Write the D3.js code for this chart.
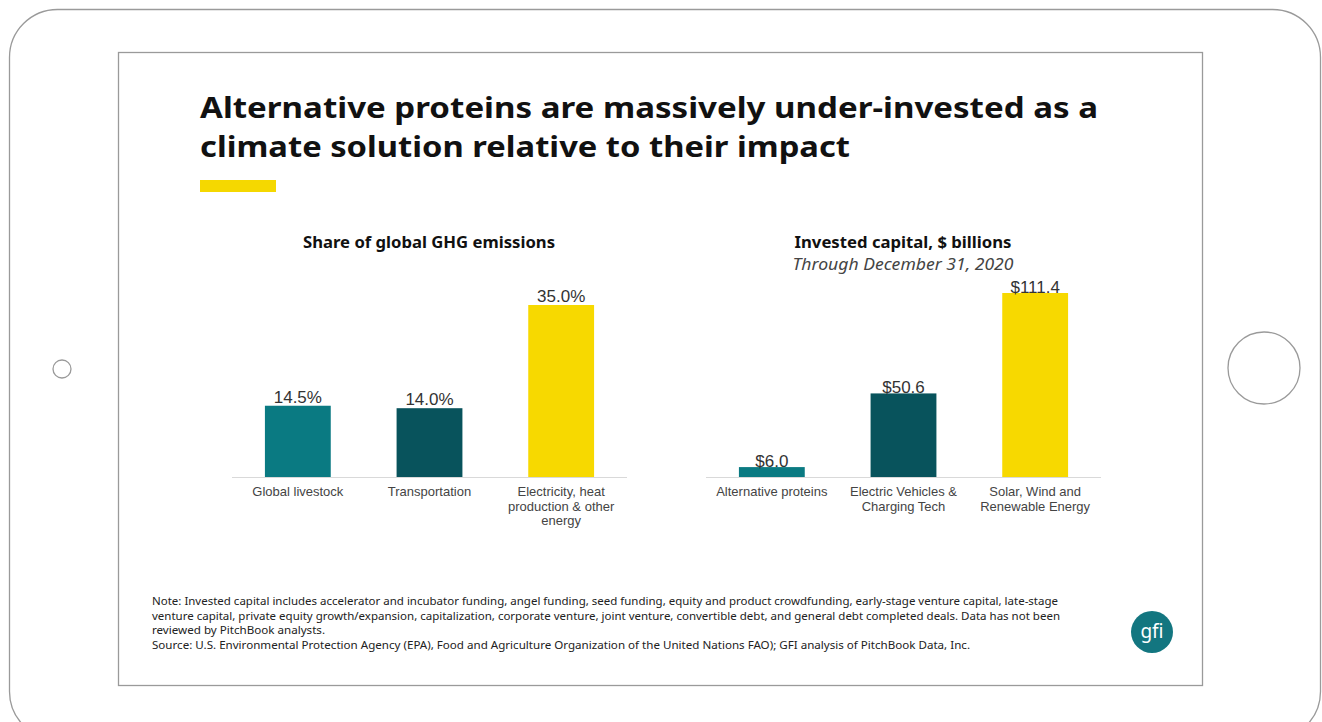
<!DOCTYPE html>
<html><head><meta charset="utf-8">
<script src="https://cdn.jsdelivr.net/npm/d3@7"></script>
<style>
html,body{margin:0;padding:0;background:#fff;}
svg{display:block;}
</style></head>
<body>
<svg id="c" width="1322" height="722"></svg>
<script>
const titleLines = ["Alternative proteins are massively under-invested as a", "climate solution relative to their impact"];
const ghgTitle = "Share of global GHG emissions";
const ghgCategories = [["Global livestock"], ["Transportation"], ["Electricity, heat", "production & other", "energy"]];
const ghgValues = [14.5, 14.0, 35.0];
const ghgLabels = ["14.5%", "14.0%", "35.0%"];
const capTitle = "Invested capital, $ billions";
const capSubtitle = "Through December 31, 2020";
const capCategories = [["Alternative proteins"], ["Electric Vehicles &", "Charging Tech"], ["Solar, Wind and", "Renewable Energy"]];
const capValues = [6.0, 50.6, 111.4];
const capLabels = ["$6.0", "$50.6", "$111.4"];
const barColors = ["#0a7a82", "#08535c", "#f7d900"];
const noteLines = [
 "Note: Invested capital includes accelerator and incubator funding, angel funding, seed funding, equity and product crowdfunding, early-stage venture capital, late-stage",
 "venture capital, private equity growth/expansion, capitalization, corporate venture, joint venture, convertible debt, and general debt completed deals. Data has not been",
 "reviewed by PitchBook analysts.",
 "Source: U.S. Environmental Protection Agency (EPA), Food and Agriculture Organization of the United Nations FAO); GFI analysis of PitchBook Data, Inc."
];
const noteWidths = [906, 908, 173, 818];

const svg = d3.select("#c");
// tablet frame
svg.append("rect").attr("x",9.5).attr("y",9.5).attr("width",1311).attr("height",730).attr("rx",48)
  .attr("fill","#fff").attr("stroke","#9a9a9a").attr("stroke-width",1.3);
svg.append("circle").attr("cx",62).attr("cy",369).attr("r",9).attr("fill","none").attr("stroke","#9a9a9a").attr("stroke-width",1.3);
svg.append("circle").attr("cx",1264).attr("cy",368).attr("r",36).attr("fill","none").attr("stroke","#9a9a9a").attr("stroke-width",1.3);
// slide
svg.append("rect").attr("x",118.5).attr("y",52.5).attr("width",1084).attr("height",633)
  .attr("fill","#fff").attr("stroke","#9a9a9a").attr("stroke-width",1.3);

const titleFont = "'Noto Sans', 'Open Sans', sans-serif";
const tt = svg.append("g");
titleLines.forEach((t,i)=>{
  const el = tt.append("text").attr("x",200).attr("y",118+i*39).text(t)
    .attr("font-family",titleFont).attr("font-weight",700).attr("font-size",29).attr("fill","#111");
  if(i===0) el.attr("textLength",898).attr("lengthAdjust","spacingAndGlyphs");
  if(i===1) el.attr("textLength",650).attr("lengthAdjust","spacingAndGlyphs");
});
svg.append("rect").attr("x",200).attr("y",180).attr("width",76).attr("height",12).attr("fill","#f5d800");

function chart(cfg){
  const g = svg.append("g");
  const x = d3.scaleBand().domain(d3.range(cfg.values.length)).range([cfg.x0, cfg.x1]).paddingInner(cfg.pi).paddingOuter(cfg.po);
  const y = d3.scaleLinear().domain([0, cfg.max]).range([cfg.base, cfg.top]);
  g.append("line").attr("x1",cfg.ax0).attr("x2",cfg.ax1).attr("y1",cfg.base+0.5).attr("y2",cfg.base+0.5)
    .attr("stroke","#d9d9d9").attr("stroke-width",1.2);
  g.selectAll("rect.bar").data(cfg.values).join("rect").attr("class","bar")
    .attr("x",(d,i)=>x(i)).attr("width",x.bandwidth())
    .attr("y",d=>y(d)).attr("height",d=>cfg.base-y(d)).attr("fill",(d,i)=>barColors[i]);
  g.selectAll("text.val").data(cfg.values).join("text").attr("class","val")
    .attr("x",(d,i)=>x(i)+x.bandwidth()/2).attr("y",d=>y(d)+cfg.labelDy)
    .attr("text-anchor","middle").attr("font-family","'Liberation Sans', Arial, sans-serif")
    .attr("font-size",17).attr("fill","#333").text((d,i)=>cfg.labels[i]);
  cfg.cats.forEach((lines,i)=>{
    const t = g.append("text").attr("text-anchor","middle").attr("font-family","'Liberation Sans', Arial, sans-serif")
      .attr("font-size",13).attr("fill","#444");
    lines.forEach((l,j)=>t.append("tspan").attr("x",x(i)+x.bandwidth()/2).attr("y",cfg.base+19+j*cfg.lh).text(l));
  });
  g.append("text").attr("x",cfg.tx).attr("y",248).attr("text-anchor","middle")
    .attr("font-family",titleFont).attr("font-weight",700).attr("font-size",16.5).attr("fill","#111")
    .attr("textLength",cfg.tw).attr("lengthAdjust","spacingAndGlyphs").text(cfg.title);
  if(cfg.subtitle){
    g.append("text").attr("x",cfg.tx).attr("y",270).attr("text-anchor","middle")
      .attr("font-family",titleFont).attr("font-style","italic").attr("font-size",16.5).attr("fill","#444")
      .attr("textLength",cfg.sw).attr("lengthAdjust","spacingAndGlyphs").text(cfg.subtitle);
  }
}
chart({values:ghgValues, labels:ghgLabels, cats:ghgCategories, x0:232, x1:627, pi:0.5, po:0.25, max:35, base:477, top:305,
  ax0:232, ax1:627, labelDy:-3, lh:14.5, tx:429, tw:252, title:ghgTitle});
chart({values:capValues, labels:capLabels, cats:capCategories, x0:706, x1:1101, pi:0.5, po:0.25, max:111.4, base:477, top:293,
  ax0:706, ax1:1101, labelDy:0, lh:14.5, tx:903, tw:217, sw:221, title:capTitle, subtitle:capSubtitle});

noteLines.forEach((t,i)=>{
  const el = svg.append("text").attr("x",152).attr("y",605+i*14.5).text(t)
    .attr("font-family","'Noto Sans', sans-serif").attr("font-size",10.5).attr("fill","#222");
  if(noteWidths[i]) el.attr("textLength",noteWidths[i]).attr("lengthAdjust","spacingAndGlyphs");
});
// logo
svg.append("circle").attr("cx",1152).attr("cy",632).attr("r",21).attr("fill","#137680");
svg.append("text").attr("x",1152).attr("y",638).attr("text-anchor","middle").attr("font-family","'Noto Sans', sans-serif")
  .attr("font-size",19).attr("fill","#fff").text("gfi");
</script>
</body></html>
